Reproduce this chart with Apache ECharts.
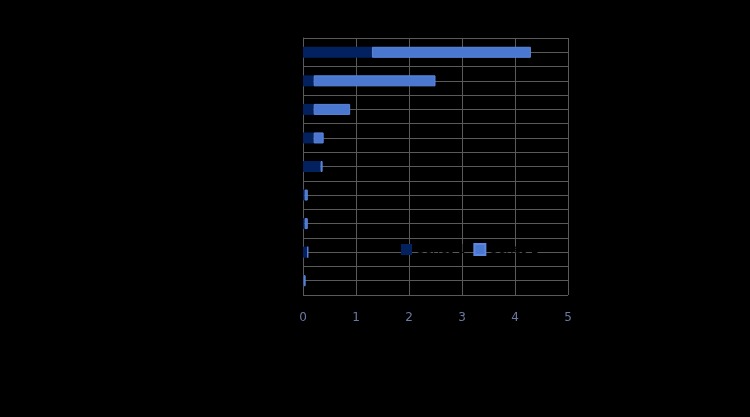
<!DOCTYPE html>
<html><head><meta charset="utf-8">
<script src="https://cdn.jsdelivr.net/npm/echarts@6/dist/echarts.min.js"></script>
<style>html,body{margin:0;padding:0;background:#000;}#c{width:750px;height:417px;}</style>
</head><body><div id="c"></div>
<script>
const categories = ['Category 1','Category 2','Category 3','Category 4','Category 5','Category 6','Category 7','Category 8','Category 9'];
const seriesNames = ['Series 1','Series 2'];
const darkValues = [1.30, 0.20, 0.20, 0.20, 0.33, 0.03, 0.03, 0.09, 0.01];
const lightValues = [3.00, 2.30, 0.69, 0.19, 0.04, 0.06, 0.06, 0.00, 0.04];
const xTicks = [0, 1, 2, 3, 4, 5];

const chart = echarts.init(document.getElementById('c'));
chart.setOption({
  backgroundColor: '#000000',
  animation: false,
  grid: { left: 303, right: 182, top: 38, bottom: 122, containLabel: false },
  legend: {
    data: seriesNames,
    left: 396, top: 238,
    itemWidth: 11, itemHeight: 11, itemGap: 8,
    icon: 'rect',
    textStyle: { color: '#000000', fontSize: 12, fontFamily: 'DejaVu Sans' }
  },
  xAxis: {
    type: 'value', min: xTicks[0], max: xTicks[xTicks.length-1], interval: 1,
    axisLine: { show: false }, axisTick: { show: false },
    axisLabel: { color: '#6b7aa3', fontSize: 12, fontFamily: 'DejaVu Sans', margin: 17 },
    splitLine: { show: true, lineStyle: { color: '#5a5a5a', width: 1 } }
  },
  yAxis: [{
    type: 'category', data: categories, inverse: true,
    axisLine: { show: true, lineStyle: { color: '#5a5a5a' } }, axisTick: { show: false },
    axisLabel: { color: '#000000', fontSize: 12 },
    splitLine: { show: true, lineStyle: { color: '#5a5a5a' } }
  }, {
    type: 'value', min: 0, max: 18, interval: 1, position: 'left',
    axisLine: { show: false }, axisTick: { show: false }, axisLabel: { show: false },
    splitLine: { show: true, lineStyle: { color: '#5a5a5a' } }
  }],
  series: [{
    name: seriesNames[0], type: 'bar', stack: 's', data: darkValues, barWidth: 11,
    itemStyle: { color: '#03215f' }, z: 3
  }, {
    name: seriesNames[1], type: 'bar', stack: 's', data: lightValues, barWidth: 11,
    itemStyle: { color: '#4a77cf', borderColor: '#5b88de', borderWidth: 1 }, z: 3
  }]
});
</script></body></html>
